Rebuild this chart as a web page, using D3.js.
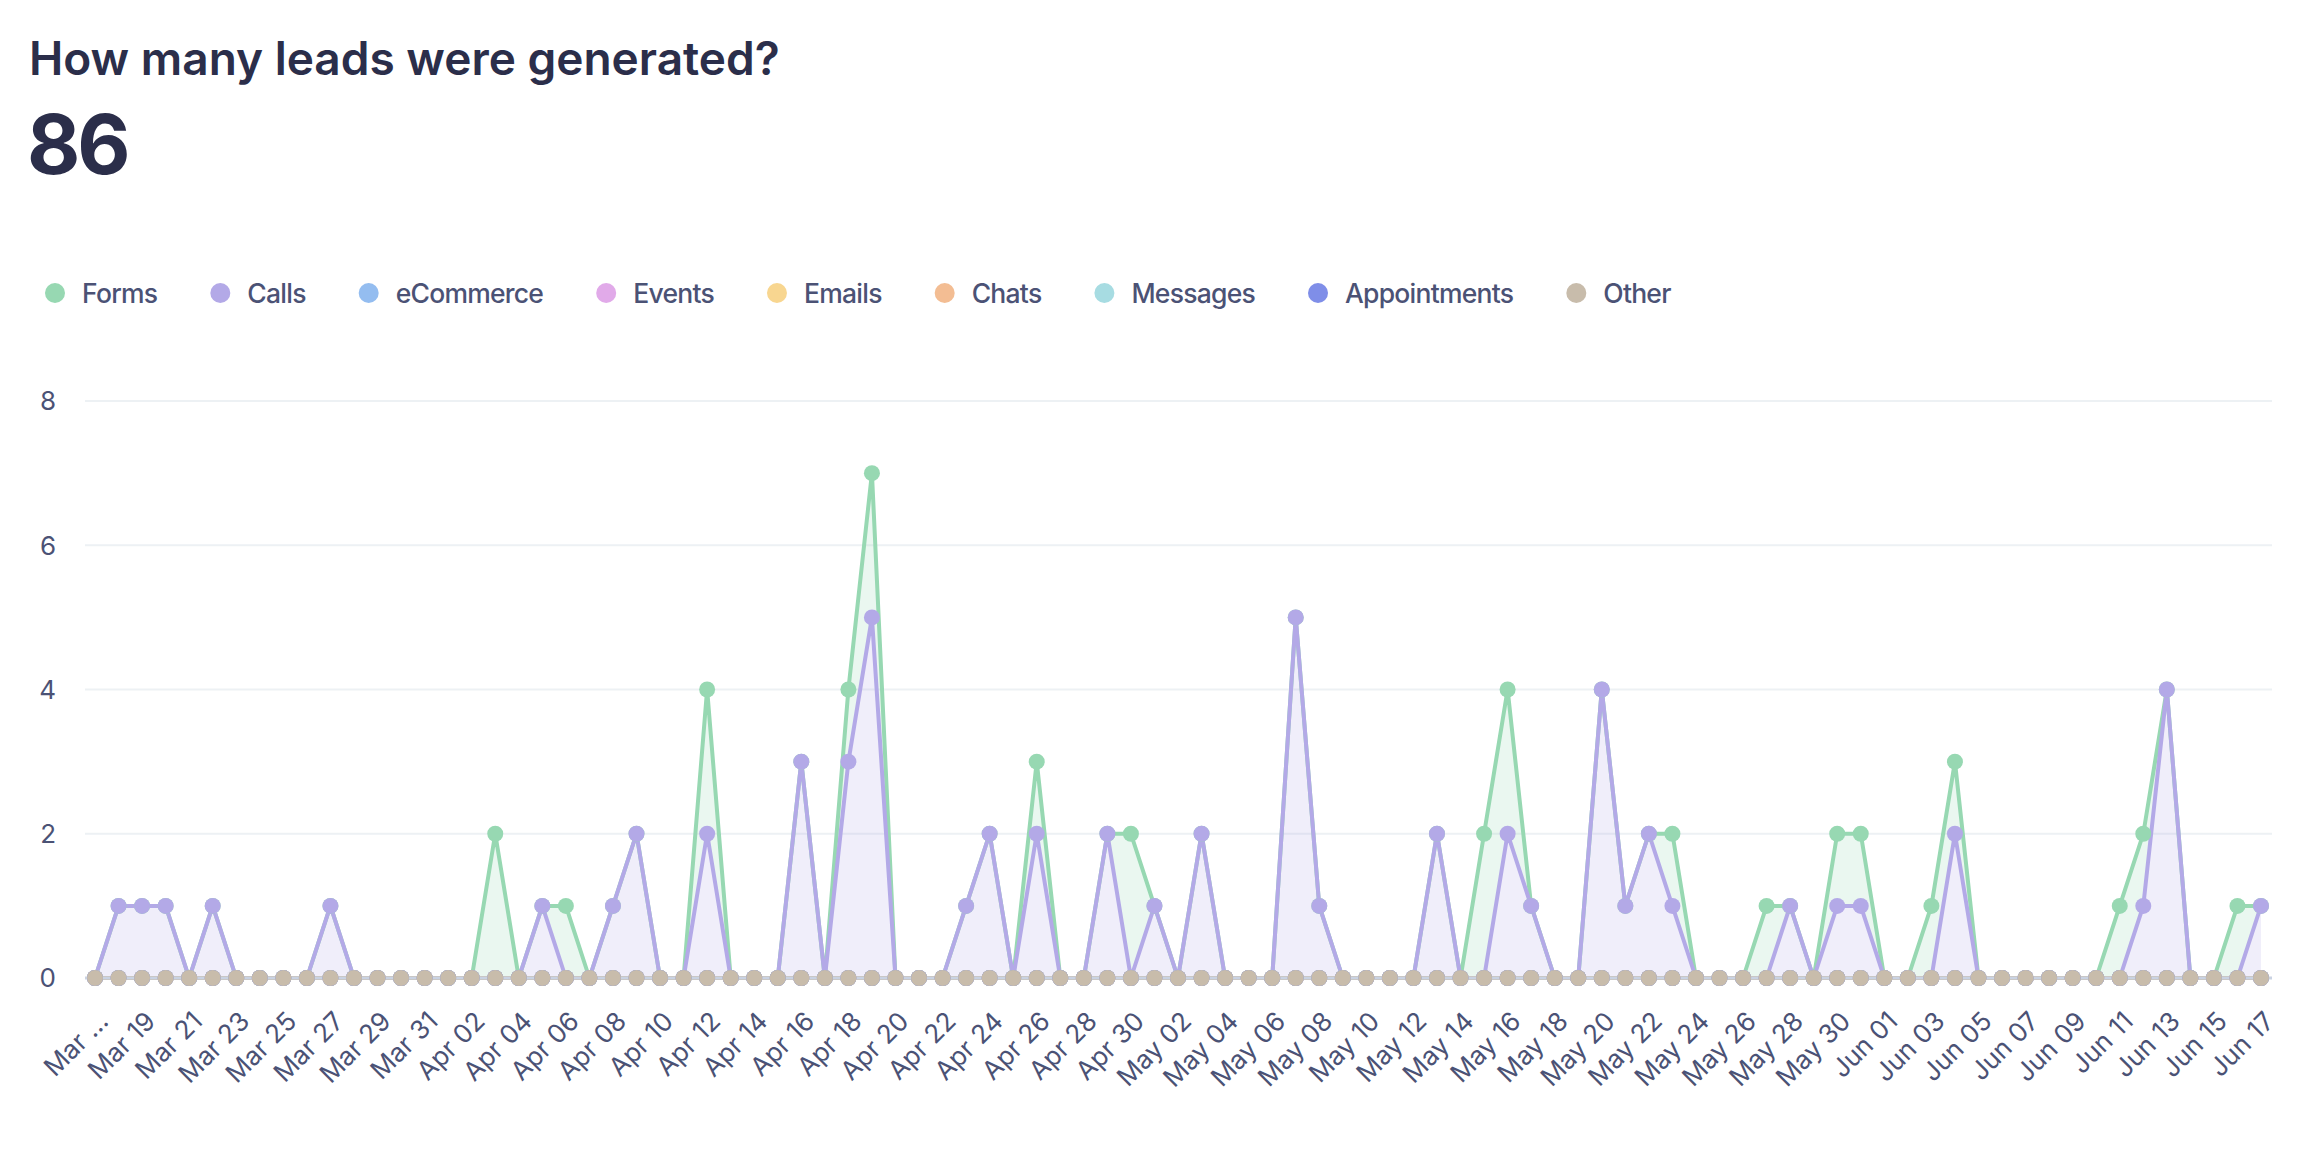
<!DOCTYPE html>
<meta charset="utf-8">
<script src="https://d3js.org/d3.v7.min.js"></script>
<style>
  body { margin: 0; background: #fff; }
  text { font-family: Inter, "Noto Sans", sans-serif; }
</style>
<svg id="chart" width="2310" height="1162"></svg>
<script>

// Days on the x axis
var days = [
  "Mar 17","Mar 18","Mar 19","Mar 20","Mar 21","Mar 22","Mar 23","Mar 24","Mar 25","Mar 26",
  "Mar 27","Mar 28","Mar 29","Mar 30","Mar 31","Apr 01","Apr 02","Apr 03","Apr 04","Apr 05",
  "Apr 06","Apr 07","Apr 08","Apr 09","Apr 10","Apr 11","Apr 12","Apr 13","Apr 14","Apr 15",
  "Apr 16","Apr 17","Apr 18","Apr 19","Apr 20","Apr 21","Apr 22","Apr 23","Apr 24","Apr 25",
  "Apr 26","Apr 27","Apr 28","Apr 29","Apr 30","May 01","May 02","May 03","May 04","May 05",
  "May 06","May 07","May 08","May 09","May 10","May 11","May 12","May 13","May 14","May 15",
  "May 16","May 17","May 18","May 19","May 20","May 21","May 22","May 23","May 24","May 25",
  "May 26","May 27","May 28","May 29","May 30","May 31","Jun 01","Jun 02","Jun 03","Jun 04",
  "Jun 05","Jun 06","Jun 07","Jun 08","Jun 09","Jun 10","Jun 11","Jun 12","Jun 13","Jun 14",
  "Jun 15","Jun 16","Jun 17"];

// Leads per day, one array per source
var forms = [
  0,0,0,0,0,0,0,0,0,0, 0,0,0,0,0,0,0,2,0,0, 1,0,0,0,0,0,2,0,0,0,
  0,0,1,2,0,0,0,0,0,0, 1,0,0,0,2,0,0,0,0,0, 0,0,0,0,0,0,0,0,0,2,
  2,0,0,0,0,0,0,1,0,0, 0,1,0,0,1,1,0,0,1,1, 0,0,0,0,0,0,1,1,0,0, 0,1,0];
var calls = [
  0,1,1,1,0,1,0,0,0,0, 1,0,0,0,0,0,0,0,0,1, 0,0,1,2,0,0,2,0,0,0,
  3,0,3,5,0,0,0,1,2,0, 2,0,0,2,0,1,0,2,0,0, 0,5,1,0,0,0,0,2,0,0,
  2,1,0,0,4,1,2,1,0,0, 0,0,1,0,1,1,0,0,0,2, 0,0,0,0,0,0,0,1,4,0, 0,0,1];
var ecommerce = [
  0,0,0,0,0,0,0,0,0,0, 0,0,0,0,0,0,0,0,0,0, 0,0,0,0,0,0,0,0,0,0,
  0,0,0,0,0,0,0,0,0,0, 0,0,0,0,0,0,0,0,0,0, 0,0,0,0,0,0,0,0,0,0,
  0,0,0,0,0,0,0,0,0,0, 0,0,0,0,0,0,0,0,0,0, 0,0,0,0,0,0,0,0,0,0, 0,0,0];
var events = ecommerce.slice();
var emails = ecommerce.slice();
var chats = ecommerce.slice();
var messages = ecommerce.slice();
var appointments = ecommerce.slice();
var other = ecommerce.slice();

var seriesNames = ["Forms","Calls","eCommerce","Events","Emails","Chats","Messages","Appointments","Other"];
var seriesValues = [forms, calls, ecommerce, events, emails, chats, messages, appointments, other];
var seriesColors = ["#97d8b2","#b3a9e7","#94bdf0","#e1aae9","#f8d690","#f3bd93","#a7dce2","#7f8ee8","#c8bcab"];
var yTicks = [0, 2, 4, 6, 8];

var svg = d3.select("#chart");

// Heading
svg.append("text")
    .attr("x", 29).attr("y", 75)
    .attr("font-size", 46).attr("font-weight", 600)
    .attr("letter-spacing", 0)
    .attr("fill", "#2b2e4a")
    .text("How many leads were generated?");

svg.append("text")
    .attr("x", 27).attr("y", 174)
    .attr("font-size", 82).attr("font-weight", 700)
    .attr("letter-spacing", -3)
    .attr("fill", "#2b2e4a")
    .text(d3.sum(seriesValues, function(s){ return d3.sum(s); }));

// Legend
var lx = 55;
seriesNames.forEach(function(name, i){
    var g = svg.append("g").attr("transform", "translate(" + lx + ",293)");
    g.append("circle").attr("r", 10).attr("fill", seriesColors[i]);
    var t = g.append("text")
        .attr("x", 27).attr("dy", "0.36em")
        .attr("font-size", 26.5).attr("font-weight", 500)
        .attr("letter-spacing", -0.75)
        .attr("fill", "#4b5275")
        .text(name);
    lx += 27 + t.node().getComputedTextLength() + 63;
});

// Scales
var x = d3.scalePoint().domain(days).range([95, 2261]);
var y = d3.scaleLinear().domain([0, 8]).range([978, 401]);

// Grid
svg.append("g")
  .selectAll("line")
  .data(yTicks.filter(function(d){ return d > 0; }))
  .enter().append("line")
    .attr("x1", 85).attr("x2", 2272)
    .attr("y1", function(d){ return y(d); })
    .attr("y2", function(d){ return y(d); })
    .attr("stroke", "#edf1f4").attr("stroke-width", 2);

svg.append("g")
  .selectAll("text")
  .data(yTicks)
  .enter().append("text")
    .attr("x", 56).attr("y", function(d){ return y(d); })
    .attr("dy", "0.36em").attr("text-anchor", "end")
    .attr("font-size", 26).attr("fill", "#4b5275")
    .text(function(d){ return d; });

// Stack: Forms sits on top of Calls, Other at the bottom
var table = days.map(function(d, i){
    var row = { day: d };
    seriesNames.forEach(function(n, k){ row[n] = seriesValues[k][i]; });
    return row;
});
var stack = d3.stack().keys(seriesNames.slice().reverse())(table);
var byName = {};
stack.forEach(function(s){ byName[s.key] = s; });

var area = d3.area()
    .x(function(d){ return x(d.data.day); })
    .y0(function(d){ return y(d[0]); })
    .y1(function(d){ return y(d[1]); });
var line = d3.line()
    .x(function(d){ return x(d.data.day); })
    .y(function(d){ return y(d[1]); });

var plot = svg.append("g");
seriesNames.forEach(function(n, k){
    plot.append("path").datum(byName[n])
        .attr("d", area)
        .attr("fill", seriesColors[k]).attr("fill-opacity", 0.2);
});
seriesNames.forEach(function(n, k){
    plot.append("path").datum(byName[n])
        .attr("d", line)
        .attr("fill", "none")
        .attr("stroke", seriesColors[k]).attr("stroke-width", 4)
        .attr("stroke-linejoin", "round");
});

// zero line
svg.append("line")
    .attr("x1", 85).attr("x2", 2272)
    .attr("y1", y(0)).attr("y2", y(0))
    .attr("stroke", "#c9d2e2").attr("stroke-width", 3);

seriesNames.forEach(function(n, k){
    svg.append("g")
      .selectAll("circle")
      .data(byName[n])
      .enter().append("circle")
        .attr("cx", function(d){ return x(d.data.day); })
        .attr("cy", function(d){ return y(d[1]); })
        .attr("r", 8)
        .attr("fill", seriesColors[k]);
});

// x labels, every second day
svg.append("g")
  .selectAll("text")
  .data(days.filter(function(d, i){ return i % 2 === 0; }))
  .enter().append("text")
    .attr("transform", function(d){ return "translate(" + (x(d) + 2) + ",1010) rotate(-45)"; })
    .attr("text-anchor", "end")
    .attr("dy", "0.7em")
    .attr("font-size", 26).attr("fill", "#4b5275")
    .text(function(d, i){ return i === 0 ? "Mar \u2026" : d; });

</script>
